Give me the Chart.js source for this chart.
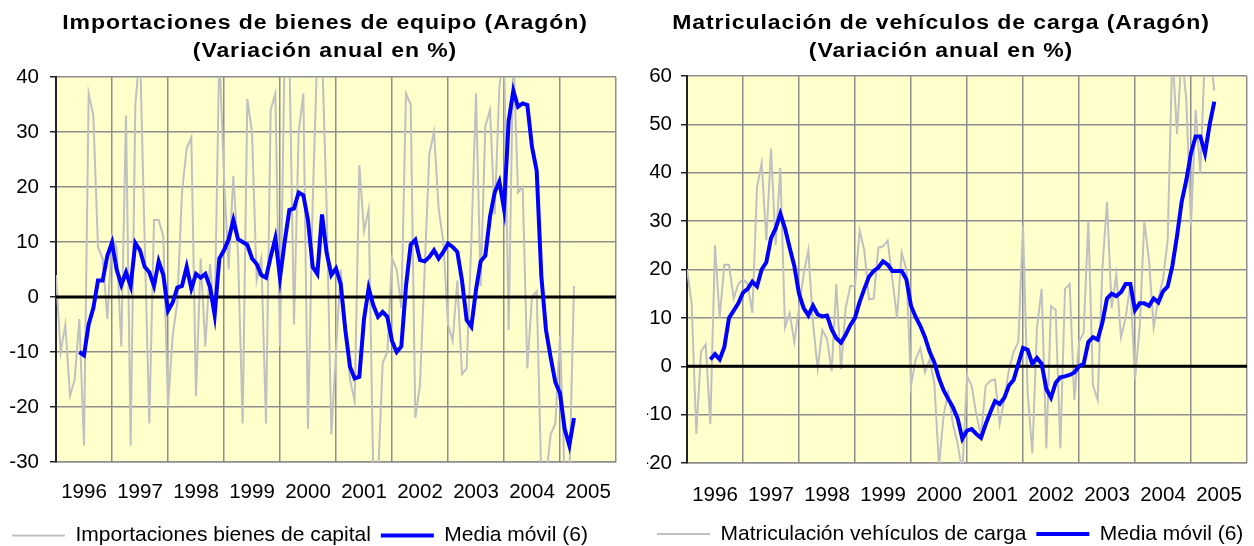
<!DOCTYPE html>
<html>
<head>
<meta charset="utf-8">
<script src="https://cdn.jsdelivr.net/npm/chart.js@4.4.1/dist/chart.umd.min.js"></script>
<style>
  body { margin: 0; background: #fff; overflow: hidden; }
  .box { position: absolute; top: 0; }
</style>
</head>
<body>
<div class="box" style="left:0px"><canvas id="importChart" width="650" height="546"></canvas></div>
<div class="box" style="left:627px"><canvas id="vehicleChart" width="660" height="546"></canvas></div>
<script>
// years on the category axis (monthly data from January 1996)
const yearLabels = ["1996", "1997", "1998", "1999", "2000", "2001", "2002", "2003", "2004", "2005"];

// Importaciones de bienes de equipo, variación anual % (monthly)
const importValues = [
  4, -10, -5, -18, -15, -4, -27, 37, 33, 9, 7, -4,
  11, 9, -9, 33, -27, 35, 45, 10, -23, 14, 14, 11,
  -20, -7, -1, 19, 27, 29, -18, 7, -9, 6, -4, 45,
  22, 5, 22, 8, -23, 36, 30, 3, 7, -23, 34, 37,
  -9, 45, 45, -5, 30, 37, -24, 17, 45, 45, 16, -25,
  -10, 5, -5, -15, -19, 24, 12, 16, -33, -33, -12, -10,
  7, 5, -2, 37, 35, -22, -16, 5, 26, 30, 16, 10,
  -5, -8, 3, -14, -13, 10, 37, 2, 31, 34, 15, 38,
  45, -6, 45, 19, 20, -13, 0, 1, -33, -33, -25, -23,
  -7, -33, -33, 2
];
// Media móvil (6) of the imports series
const importAverage = [
  null, null, null, null, null, -10, -10.6, -5, -2, 3, 3, 7.5,
  9.9, 5, 2.2, 4.5, 2, 9.8, 8.5, 5.5, 4.5, 2, 6.5, 4,
  -2.5, -1, 1.7, 2, 5.5, 1.5, 4.2, 3.5, 4.2, 1.8, -3.3, 7,
  8.5, 10.5, 14, 10.5, 10, 9.5, 7, 6, 4, 3.5, 7.3, 10.7,
  3.5, 10, 15.8, 16.1, 19, 18.5, 14, 5.5, 4.2, 15, 8, 4,
  5.2, 2.4, -6, -12.7, -14.8, -14.5, -4, 1.6, -1.5, -3.6, -2.7, -3.6,
  -8, -10, -9, 2, 9.5, 10.4, 6.7, 6.5, 7.3, 8.5, 7, 8.2,
  9.7, 9.1, 8.2, 3, -4.2, -5.4, 1.3, 6.5, 7.5, 14.6, 19, 21,
  16, 32, 37.5, 34.6, 35.2, 34.9, 27.3, 23, 3.8, -6, -11, -15.5,
  -17.5, -24, -27, -22
];

// Matriculación de vehículos de carga, variación anual % (monthly)
const vehicleValues = [
  20, 13, -14, 3, 4.5, -12, 25, 10, 21, 21, 14, 17,
  18, 17, 11, 37, 42, 26, 45, 25, 41, 8, 11, 5,
  12, 19, 24, 9, -0.5, 7.5, 5.6, -1, 17, -0.6, 12, 16.6,
  16.6, 28, 24, 13.8, 14, 24.5, 24.8, 26, 18, 10, 23.5, 20,
  -4, 1.4, 3.7, -1.3, 1.4, -3.4, -20.6, -10, -5.5, -12, -16, -22,
  -2, -4, -10, -14.4, -4, -3, -2.7, -12, -6.8, -0.6, 3, 5,
  29, -5.5, -18, 8, 16, -17, 12.4, 11.7, -17, 16, 17, -7,
  5, 7, 30, -4, -7, 20, 34, 12, 19, 6, 10, 17,
  -2.7, 8, 30, 22, 8, 14, 18, 26, 65, 48, 65, 55,
  29, 53, 40, 65, 65, 57
];
// Media móvil (6) of the vehicles series
const vehicleAverage = [
  null, null, null, null, null, 1.4, 2.5, 1.4, 4, 10, 11.5, 13,
  15.2, 16, 17.5, 16.5, 20, 21.5, 26.5, 28.5, 31.5, 28.5, 24.5, 20.7,
  15, 12, 10.5, 12.5, 10.7, 10.3, 10.5, 7.6, 5.8, 4.9, 6.5, 8.5,
  10, 13.3, 16, 18.5, 19.7, 20.4, 21.7, 21, 19.7, 19.7, 19.7, 18,
  12.5, 10.2, 8.3, 6, 3, 0.8, -2.5, -5, -6.8, -8.5, -10.8, -15,
  -13.3, -13, -14, -14.8, -12, -9.5, -7.2, -7.8, -6.5, -4, -2.8, 0.5,
  3.8, 3.4, 0.5, 1.7, 0.5, -4.7, -6.5, -3.4, -2.3, -2.1, -1.8, -1.3,
  0, 0.5, 5, 6, 5.5, 9, 14, 15, 14.5, 15.3, 17, 17,
  11.6, 13, 13, 12.5, 14, 13.2, 15.5, 16.5, 20.7, 26.9, 34, 38.5,
  44.1, 47.5, 47.5, 44, 50, 54.7
];

const FONT = '"Liberation Sans", Arial, sans-serif';
const GRID = "#8e8e8e";

// yellow plot area
const plotBackground = {
  id: "plotBackground",
  beforeDraw(chart) {
    const { ctx, chartArea } = chart;
    ctx.save();
    ctx.fillStyle = "rgb(255, 255, 204)";
    ctx.fillRect(chartArea.left, chartArea.top, chartArea.right - chartArea.left, chartArea.bottom - chartArea.top);
    ctx.restore();
  },
};

// black zero axis: over the grey series, under the moving average
const zeroLine = {
  id: "zeroLine",
  afterDatasetDraw(chart, args) {
    if (args.index !== 0) return;
    const { ctx, chartArea } = chart;
    const y = chart.scales.y.getPixelForValue(0);
    ctx.save();
    ctx.strokeStyle = "#000";
    ctx.lineWidth = 3;
    ctx.beginPath();
    ctx.moveTo(chartArea.left, y);
    ctx.lineTo(chartArea.right, y);
    ctx.stroke();
    ctx.restore();
  },
};

// wide, spaced bold two line title (like the Excel original)
const spacedTitle = {
  id: "spacedTitle",
  afterDraw(chart, args, opts) {
    const ctx = chart.ctx;
    opts.lines.forEach((line, i) => {
      ctx.save();
      ctx.font = "bold 20px " + FONT;
      ctx.letterSpacing = "0.8px";
      ctx.fillStyle = "#000";
      ctx.textAlign = "center";
      ctx.textBaseline = "alphabetic";
      ctx.translate(opts.x, opts.baselines[i]);
      ctx.scale(1.15, 1);
      ctx.fillText(line, 0, 0);
      ctx.restore();
    });
  },
};

function toPoints(values) {
  return values.map((v, i) => ({ x: i, y: v }));
}

function renderChart(canvasId, cfg) {
  return new Chart(document.querySelector(canvasId), {
    type: "line",
    data: {
      datasets: [
        {
          label: cfg.seriesLabel,
          data: toPoints(cfg.values),
          borderColor: "#c0c0c0",
          borderWidth: 2,
          pointRadius: 0,
          pointBorderWidth: 2,
          pointBorderColor: "#c0c0c0",
          tension: 0,
          order: 2,
        },
        {
          label: "Media móvil (6)",
          data: toPoints(cfg.average),
          borderColor: "#0000ff",
          borderWidth: 4,
          pointRadius: 0,
          pointBorderWidth: 4,
          pointBorderColor: "#0000ff",
          tension: 0,
          order: 1,
        },
      ],
    },
    options: {
      responsive: false,
      animation: false,
      events: [],
      layout: { padding: cfg.padding },
      scales: {
        x: {
          type: "linear",
          min: 0,
          max: 120,
          afterBuildTicks(scale) {
            const ticks = [];
            for (let v = 0; v <= 120; v += 6) ticks.push({ value: v });
            scale.ticks = ticks;
          },
          afterFit(scale) { scale.height = cfg.xHeight; },
          ticks: {
            autoSkip: false,
            maxRotation: 0,
            padding: cfg.xPad,
            color: "#000",
            font: { family: FONT, size: 20.5 },
            callback: (v) => (v % 12 === 6 ? yearLabels[(v - 6) / 12] : ""),
          },
          grid: {
            drawTicks: false,
            lineWidth: 1.5,
            color: (c) => (c.tick && c.tick.value % 12 === 0 ? GRID : "rgba(0,0,0,0)"),
          },
          border: { color: GRID, width: 1.5 },
        },
        y: {
          min: cfg.yMin,
          max: cfg.yMax,
          afterFit(scale) { scale.width = cfg.yWidth; },
          ticks: {
            stepSize: 10,
            padding: cfg.yPad,
            color: "#000",
            font: { family: FONT, size: 20.5 },
          },
          grid: {
            color: GRID,
            lineWidth: 1.5,
            tickLength: 6,
            tickColor: "#222",
          },
          border: { color: "#222", width: 2 },
        },
        // empty right margin so the legend row has room
        yR: {
          position: "right",
          afterFit(scale) { scale.width = cfg.rightGap; },
          ticks: { display: false },
          grid: { display: false },
          border: { display: false },
        },
      },
      plugins: {
        legend: {
          position: "bottom",
          align: "start",
          labels: {
            usePointStyle: true,
            pointStyle: "line",
            pointStyleWidth: 53,
            padding: 10,
            color: "#000",
            font: { family: FONT, size: 21 },
            sort: (a, b) => a.datasetIndex - b.datasetIndex,
          },
        },
        title: { display: false },
        tooltip: { enabled: false },
        spacedTitle: { lines: cfg.title, x: cfg.titleX, baselines: [28.5, 57] },
      },
    },
    plugins: [plotBackground, zeroLine, spacedTitle],
  });
}

renderChart("#importChart", {
  seriesLabel: "Importaciones bienes de capital",
  values: importValues,
  average: importAverage,
  title: ["Importaciones de bienes de equipo (Aragón)", "(Variación anual en %)"],
  titleX: 325,
  yMin: -30,
  yMax: 40,
  padding: { left: 2, right: 0, top: 77, bottom: -10 },
  rightGap: 34,
  yWidth: 54,
  yPad: 11,
  xHeight: 53,
  xPad: 18,
});

renderChart("#vehicleChart", {
  seriesLabel: "Matriculación vehículos de carga",
  values: vehicleValues,
  average: vehicleAverage,
  title: ["Matriculación de vehículos de carga (Aragón)", "(Variación anual en %)"],
  titleX: 314,
  yMin: -20,
  yMax: 60,
  padding: { left: 20, right: 0, top: 76, bottom: -8.5 },
  rightGap: 40,
  yWidth: 40,
  yPad: 9,
  xHeight: 50.5,
  xPad: 20,
});
</script>
</body>
</html>
